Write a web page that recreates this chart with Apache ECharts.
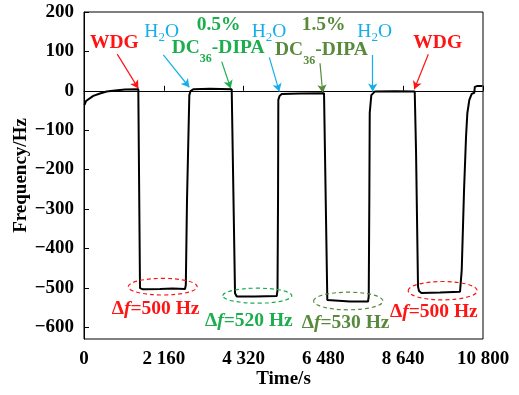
<!DOCTYPE html>
<html>
<head>
<meta charset="utf-8">
<script src="https://cdn.jsdelivr.net/npm/echarts@6/dist/echarts.min.js"></script>
<style>html,body{margin:0;padding:0;background:#fff;}#c{width:519px;height:395px;}</style>
</head>
<body>
<div id="c"></div>
<script>
// ---- data ----
const timeS = [14, 54, 108, 252, 433, 614, 839, 1110, 1470, 1516, 1557, 1597, 2057, 2400, 2734, 2756, 2788, 2851, 2883, 2959, 3411, 3998,
  4088, 4134, 4629, 5216, 5238, 5252, 5260, 5292, 5352, 5847, 6497,
  6586, 6613, 7200, 7688, 7707, 7723, 7734, 7777, 7869, 8419, 8952,
  8987, 9041, 9068, 9131, 9637, 10178, 10224, 10287, 10341, 10376, 10430, 10495, 10565, 10578, 10637, 10786];
const freqHz = [-36, -26, -21, -13, -7, -2, 1, 3, 4, -501, -505, -504, -503, -502, -503, -493, -277, -11, -1, 4, 5, 4,
  -514, -522, -522, -521, -506, -277, -23, -13, -8, -7, -6,
  -531, -535, -535, -535, -521, -277, -56, -11, -2, -1, -2,
  -150, -497, -508, -513, -512, -510, -455, -252, -116, -57, -23, -8, -5, 10, 12, 12];
const xTicks = [0, 2160, 4320, 6480, 8640, 10800];
const yTicks = [-600, -500, -400, -300, -200, -100, 0, 100, 200];
const arrowFrom = [[900, 93], [2147, 91], [3727, 74], [5016, 85], [6388, 70], [7815, 91], [9320, 93]];
const arrowTo   = [[1470, 6], [2850, 9], [3971, 6], [5287, -2], [6461, -5], [7815, -2], [8941, 4]];
const arrowKind = ['red', 'blue', 'green', 'blue', 'olive', 'blue', 'red'];
const shiftLabels = ['WDG', 'H2O', '0.5%', 'DC36-DIPA', 'H2O', '1.5%', 'DC36-DIPA', 'H2O', 'WDG'];
const deltaLabels = ['500', '520', '530', '500'];

// ---- styling ----
const COL = { red: '#ff1414', blue: '#14aeea', green: '#1cae4e', olive: '#578a3a' };
const FF = '"Liberation Serif", "Times New Roman", serif';
const fmtNum = v => {
  const s = String(Math.abs(v)).replace(/\B(?=(\d{3})+(?!\d))/g, ' ');
  return (v < 0 ? '\u2212' : '') + s;
};

const points = timeS.map((t, i) => [t, freqHz[i]]);
const arrows = arrowFrom.map((a, i) => [
  { coord: a, lineStyle: { color: COL[arrowKind[i]], width: 1.2, type: 'solid' } },
  { coord: arrowTo[i] }
]);

function mainRich(color, bold, size) {
  return {
    m: { fontFamily: FF, fontSize: size, fontWeight: bold ? 'bold' : 'normal', fill: color, lineHeight: 22 },
    s: { fontFamily: FF, fontSize: bold ? 12 : 13, fontWeight: bold ? 'bold' : 'normal', fill: color, padding: [bold ? 22 : 12, 0, 0, 0] },
    i: { fontFamily: FF, fontSize: size, fontWeight: 'bold', fontStyle: 'italic', fill: color, lineHeight: 22 }
  };
}
function txt(x, y, text, color, bold) {
  return { type: 'text', x: x, y: y, z: 100,
    style: { text: text, rich: mainRich(color, bold, 19.5), align: 'left', verticalAlign: 'middle' } };
}
const sub = s => s.replace(/H2O/, '{m|H}{s|2}{m|O}').replace(/DC36-DIPA/, '{m|DC}{s|36}{m|-DIPA}');
const lbl = s => (/\{/.test(sub(s)) ? sub(s) : '{m|' + s + '}');

const graphics = [
  txt(90, 43, lbl(shiftLabels[0]), COL.red, true),
  txt(144.3, 31.7, lbl(shiftLabels[1]), COL.blue, false),
  txt(196.7, 25, lbl(shiftLabels[2]), COL.green, true),
  txt(171.7, 48.3, lbl(shiftLabels[3]), COL.green, true),
  txt(251.7, 31.7, lbl(shiftLabels[4]), COL.blue, false),
  txt(301.7, 25, lbl(shiftLabels[5]), COL.olive, true),
  txt(275, 50, lbl(shiftLabels[6]), COL.olive, true),
  txt(357.3, 31.7, lbl(shiftLabels[7]), COL.blue, false),
  txt(413.3, 43, lbl(shiftLabels[8]), COL.red, true),
  txt(111.7, 309, '{m|\u0394}{i|f}{m|=' + deltaLabels[0] + ' Hz}', COL.red, true),
  txt(205, 321, '{m|\u0394}{i|f}{m|=' + deltaLabels[1] + ' Hz}', COL.green, true),
  txt(301.7, 323.3, '{m|\u0394}{i|f}{m|=' + deltaLabels[2] + ' Hz}', COL.olive, true),
  txt(390, 311.7, '{m|\u0394}{i|f}{m|=' + deltaLabels[3] + ' Hz}', COL.red, true)
];
function ell(cx, cy, rx, ry, color) {
  return { type: 'ellipse', z: 90, shape: { cx, cy, rx, ry },
    style: { fill: 'none', stroke: color, lineWidth: 1.2, lineDash: [4, 3] } };
}
graphics.push(ell(162.7, 286.7, 34.5, 8.3, COL.red));
graphics.push(ell(257.3, 295.7, 34.5, 7.5, COL.green));
graphics.push(ell(348.3, 301, 34.7, 8.8, COL.olive));
graphics.push(ell(442.7, 290.7, 34.5, 9.2, COL.red));

const chart = echarts.init(document.getElementById('c'), null, { renderer: 'canvas' });
chart.setOption({
  animation: false,
  backgroundColor: '#fff',
  grid: { left: 84, right: 36, top: 12, bottom: 56, containLabel: false, outerBoundsMode: 'none',
    show: true, borderColor: '#000', borderWidth: 1, backgroundColor: 'transparent' },
  xAxis: {
    type: 'value', min: 0, max: 10800, interval: 2160,
    name: 'Time/s', nameLocation: 'middle', nameGap: 31, nameMoveOverlap: false,
    nameTextStyle: { fontFamily: FF, fontSize: 19, fontWeight: 'bold', color: '#000' },
    axisLine: { lineStyle: { color: '#000', width: 1 } },
    axisTick: { inside: true, length: 5, lineStyle: { color: '#000' } },
    axisLabel: { margin: 11, fontFamily: FF, fontSize: 19, fontWeight: 'bold', color: '#000', formatter: v => fmtNum(v),
      customValues: xTicks },
    splitLine: { show: false }
  },
  yAxis: {
    type: 'value', min: -630, max: 200,
    name: 'Frequency/Hz', nameLocation: 'middle', nameGap: 53, nameMoveOverlap: false,
    nameTextStyle: { fontFamily: FF, fontSize: 19, fontWeight: 'bold', color: '#000' },
    axisLine: { show: true, lineStyle: { color: '#000', width: 1 } },
    axisTick: { show: true, inside: true, length: 5, lineStyle: { color: '#000' }, customValues: yTicks },
    axisLabel: { margin: 10, fontFamily: FF, fontSize: 19, fontWeight: 'bold', color: '#000', formatter: v => fmtNum(v),
      customValues: yTicks },
    splitLine: { show: false }
  },
  series: [{
    type: 'line', data: points, showSymbol: false, smooth: false,
    lineStyle: { color: '#000', width: 2 }, z: 10,
    markLine: {
      silent: true, symbol: ['none', 'arrow'], symbolSize: [7, 8], label: { show: false },
      data: arrows
    }
  }],
  graphic: graphics
});
</script>
</body>
</html>
